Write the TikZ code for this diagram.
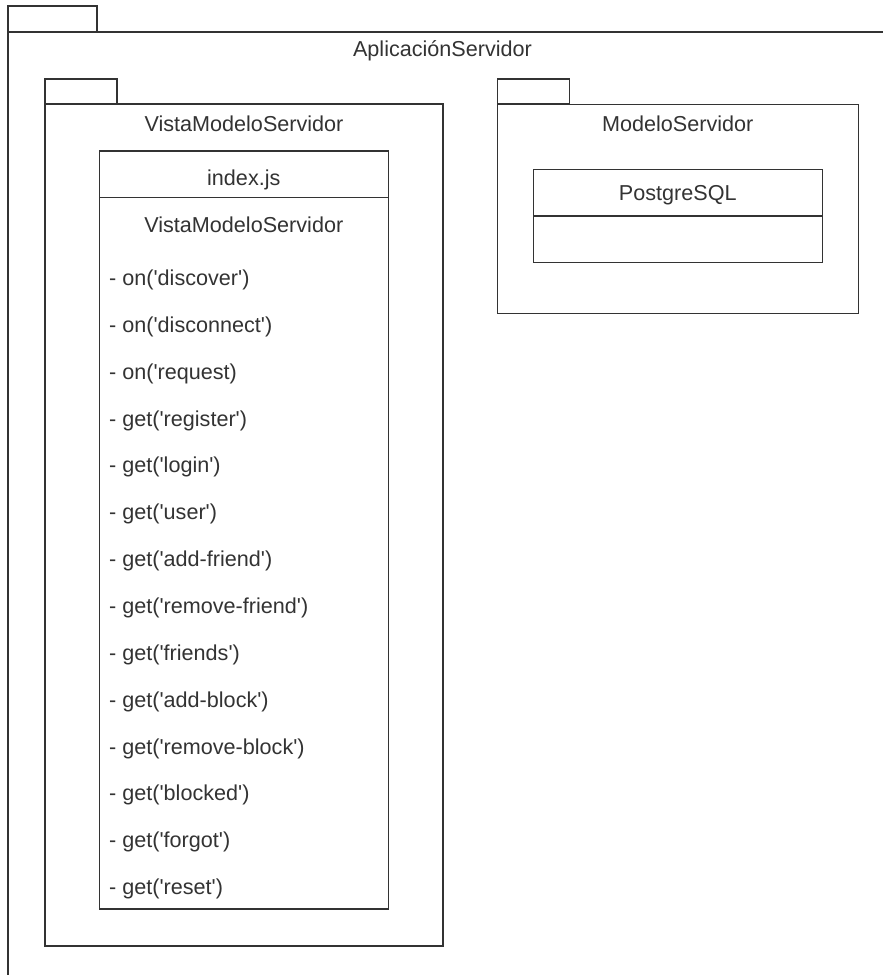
\documentclass[tikz,border=0pt]{standalone}
\usepackage{fontspec}
\setmainfont{Liberation Sans}
\usetikzlibrary{positioning}
\definecolor{ink}{HTML}{333333}
\tikzset{
  x=1pt, y=-1pt,
  frame/.style={draw=ink, line width=1.4pt, fill=white, rectangle,
    inner sep=0pt, outer sep=0pt, anchor=north west},
  label/.style={text=ink, font=\fontsize{21.6}{26}\selectfont, inner sep=0pt, anchor=base},
  member/.style={label, anchor=base west},
}
\newcommand{\q}{\textquotesingle}
\begin{document}
\begin{tikzpicture}
\useasboundingbox (0,0) rectangle (883,975);
\clip (0,0) rectangle (883,975);
\fill[white] (0,0) rectangle (883,975);

% outer package: AplicacionServidor (runs past the page edge)
\node[frame, minimum width=89pt, minimum height=26pt] (appTab) at (8,6) {};
\node[frame, minimum width=900pt, minimum height=980pt] (appBody) at (8,32) {};
\node[label] (appName) at (442.5,56.7) {AplicaciónServidor};

% package: VistaModeloServidor
\node[frame, minimum width=72pt, minimum height=25pt] (vmsTab) at (45,79) {};
\node[frame, minimum width=398pt, minimum height=842pt] (vmsBody) at (45,104) {};
\node[label] (vmsName) at (244,131) {VistaModeloServidor};

% class index.js
\node[frame, minimum width=289pt, minimum height=46.7pt] (idxHead) at (99.3,151) {};
\node[frame, minimum width=289pt, minimum height=711.3pt] (idxBody) at (99.3,197.7) {};
\node[label] (idxName) at (243.8,185) {index.js};
\node[label] (idxSub) at (243.8,232) {VistaModeloServidor};

\foreach \txt [count=\i from 0] in {
  - on(\q discover\q),
  - on(\q disconnect\q),
  - on(\q request),
  - get(\q register\q),
  - get(\q login\q),
  - get(\q user\q),
  - get(\q add-friend\q),
  - get(\q remove-friend\q),
  - get(\q friends\q),
  - get(\q add-block\q),
  - get(\q remove-block\q),
  - get(\q blocked\q),
  - get(\q forgot\q),
  - get(\q reset\q)}
  \node[member] (m\i) at (109,285.5+46.85*\i) {\txt};

% package: ModeloServidor
\node[frame, minimum width=72pt, minimum height=25pt] (msTab) at (497.3,79) {};
\node[frame, minimum width=361pt, minimum height=209pt] (msBody) at (497.3,104.3) {};
\node[label] (msName) at (677.8,131) {ModeloServidor};

% class PostgreSQL
\node[frame, minimum width=289pt, minimum height=46.7pt] (pgHead) at (533.3,169.3) {};
\node[frame, minimum width=289pt, minimum height=46.7pt] (pgBody) at (533.3,216) {};
\node[label] (pgName) at (677.8,200) {PostgreSQL};
\end{tikzpicture}
\end{document}
